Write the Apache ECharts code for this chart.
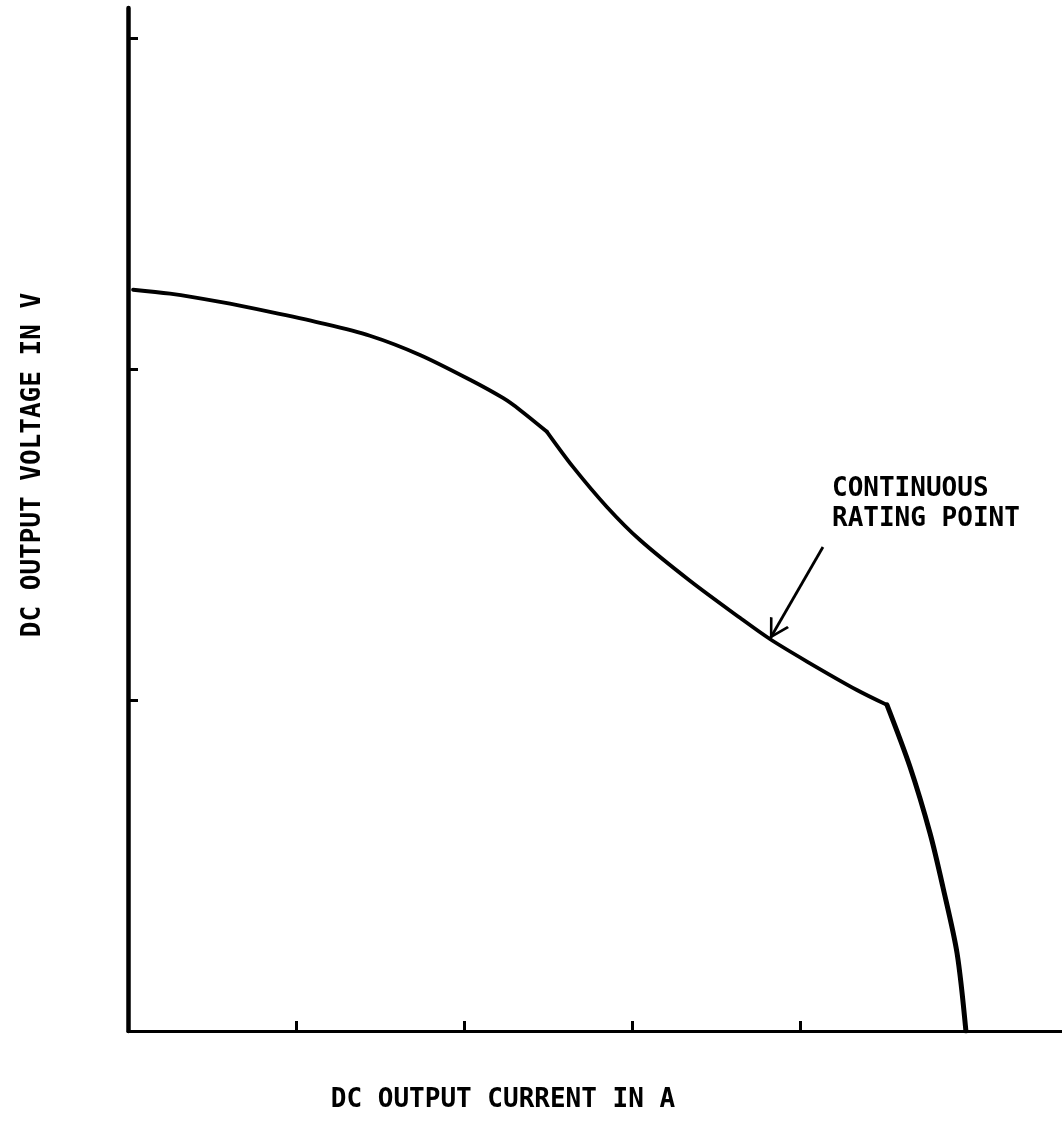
<!DOCTYPE html>
<html>
<head>
<meta charset="utf-8">
<script src="https://cdn.jsdelivr.net/npm/echarts@6/dist/echarts.min.js"></script>
<style>
  html, body { margin: 0; padding: 0; background: #ffffff; }
  #chart { width: 1062px; height: 1142px; }
</style>
</head>
<body>
<div id="chart"></div>
<script>
// Output characteristic of the supply (axis units = one tick division)
const currentA = [0.03, 0.25, 0.548, 0.845, 1.143, 1.44, 1.738, 2.036, 2.232, 2.333, 2.494,
                  2.649, 2.851, 3.048, 3.345, 3.643, 3.821, 4.042, 4.339, 4.518,
                  4.655, 4.774, 4.851, 4.935, 4.988];
const voltageV = [2.239, 2.227, 2.202, 2.172, 2.139, 2.1, 2.042, 1.967, 1.912, 1.876, 1.81,
                  1.704, 1.583, 1.483, 1.36, 1.248, 1.184, 1.116, 1.03, 0.985,
                  0.798, 0.598, 0.435, 0.236, 0];

// indices where the characteristic changes regime (sharp corners)
const cornerIdx = [10, 19];

// Continuous rating point and the start of its callout arrow
const ratingPoint = [3.821, 1.184];
const calloutTail = [4.137, 1.462];

const xTicks = [1, 2, 3, 4];
const yTicks = [1, 2, 3];

const xTitle = 'DC OUTPUT CURRENT IN A';
const yTitle = 'DC OUTPUT VOLTAGE IN V';
const noteLines = ['CONTINUOUS', 'RATING POINT'];

const FONT = '"DejaVu Sans Mono", monospace';

const points = currentA.map((x, i) => [x, voltageV[i]]);

// split at the corners so each smooth piece keeps a sharp joint
const bounds = [0, ...cornerIdx, points.length - 1];
const pieces = [];
for (let k = 0; k < bounds.length - 1; k++) {
  pieces.push(points.slice(bounds[k], bounds[k + 1] + 1));
}
const pieceWidths = [3.8, 3.8, 5];

// open chevron arrow head; the empty first sub-path moves the symbol's
// centre onto the tip so the tip lands exactly on the end coordinate
const chevron = 'path://M6,-12.5 L6,-12.5 Z M0,12 L6,0 L12,12 L10.6,12.5 L6,3.2 L1.4,12.5 Z';

const series = pieces.map((data, k) => ({
  type: 'line',
  data: data,
  showSymbol: false,
  symbol: 'none',
  smooth: 0.3,
  lineStyle: { color: '#000', width: pieceWidths[k], join: 'round', cap: 'round' },
  z: 3
}));

// callout arrow to the continuous rating point
series[1].markLine = {
  silent: true,
  symbol: ['none', chevron],
  symbolSize: [22, 40],
  label: { show: false },
  lineStyle: { color: '#000', width: 2.8, type: 'solid' },
  emphasis: { disabled: true },
  data: [[
    { coord: calloutTail, symbol: 'none' },
    { coord: ratingPoint, symbol: chevron, symbolSize: [22, 40] }
  ]]
};

const chart = echarts.init(document.getElementById('chart'), null, { renderer: 'canvas' });

chart.setOption({
  animation: false,
  backgroundColor: '#ffffff',
  grid: { left: 128, right: 0, top: 8, bottom: 111 },
  xAxis: {
    type: 'value',
    min: 0,
    max: 5.56,
    interval: 1,
    axisLine: { show: true, onZero: false, lineStyle: { color: '#000', width: 3 } },
    axisTick: { show: true, inside: true, length: 10, customValues: xTicks,
                lineStyle: { color: '#000', width: 3 } },
    axisLabel: { show: false },
    splitLine: { show: false }
  },
  yAxis: {
    type: 'value',
    min: 0,
    max: 3.09,
    interval: 1,
    axisLine: { show: true, onZero: false, lineStyle: { color: '#000', width: 4.5 } },
    axisTick: { show: true, inside: true, length: 10, customValues: yTicks,
                lineStyle: { color: '#000', width: 3 } },
    axisLabel: { show: false },
    splitLine: { show: false }
  },
  series: series,
  graphic: [
    {
      type: 'text',
      x: 503, y: 1100,
      style: { text: xTitle, font: 'bold 26px ' + FONT, fill: '#000',
               textAlign: 'center', textVerticalAlign: 'middle' }
    },
    {
      type: 'text',
      x: 33, y: 465,
      rotation: Math.PI / 2,
      style: { text: yTitle, font: 'bold 26px ' + FONT, fill: '#000',
               textAlign: 'center', textVerticalAlign: 'middle' }
    },
    {
      type: 'text',
      x: 832, y: 474,
      style: { text: noteLines.join('\n'), font: 'bold 26px ' + FONT, fill: '#000',
               lineHeight: 30, textAlign: 'left', textVerticalAlign: 'top' }
    }
  ]
});
</script>
</body>
</html>
